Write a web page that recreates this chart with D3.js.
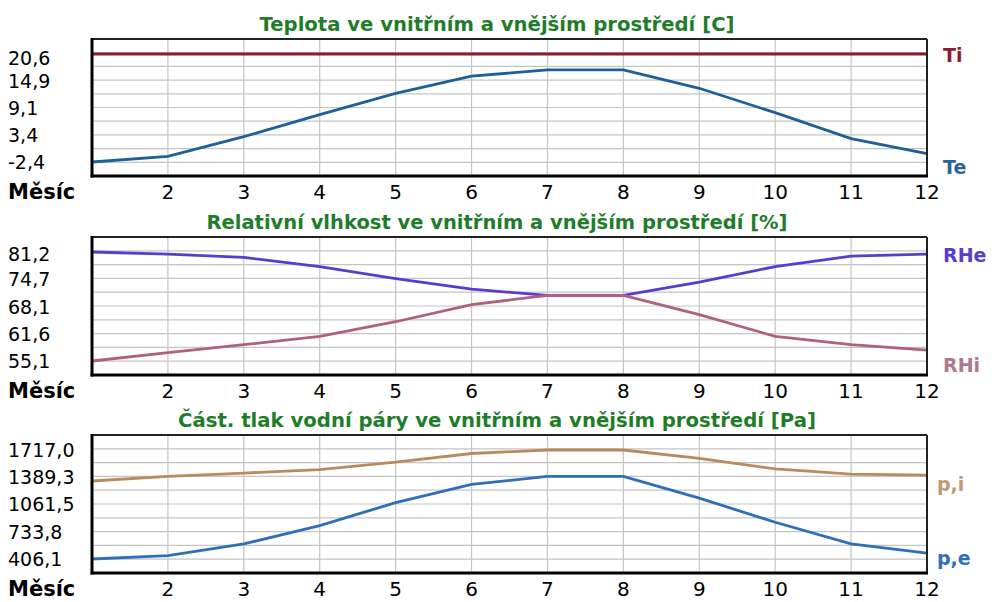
<!DOCTYPE html>
<html>
<head>
<meta charset="utf-8">
<script src="https://cdn.jsdelivr.net/npm/d3@7"></script>
<style>
  html, body { margin: 0; padding: 0; background: #ffffff; }
  svg { display: block; }
</style>
</head>
<body>
<svg id="chart" width="994" height="602"></svg>
<script>
// ---- data ----
const months = [1, 2, 3, 4, 5, 6, 7, 8, 9, 10, 11, 12];
const monthLabels = ["", "2", "3", "4", "5", "6", "7", "8", "9", "10", "11", "12"];

const tempInside = [20.6, 20.6, 20.6, 20.6, 20.6, 20.6, 20.6, 20.6, 20.6, 20.6, 20.6, 20.6];
const tempOutside = [-2.4, -1.2, 3.0, 7.7, 12.2, 15.9, 17.2, 17.2, 13.3, 8.1, 2.6, -0.6];
const tempTicks = [20.6, 14.9, 9.1, 3.4, -2.4];

const rhOutside = [81.2, 80.7, 79.9, 77.7, 74.8, 72.3, 70.8, 70.8, 74.0, 77.7, 80.2, 80.7];
const rhInside = [55.1, 57.1, 59.0, 61.0, 64.5, 68.6, 70.8, 70.8, 66.2, 61.0, 59.0, 57.7];
const rhTicks = [81.2, 74.7, 68.1, 61.6, 55.1];

const pInside = [1344, 1399, 1440, 1481, 1572, 1675, 1717, 1717, 1615, 1490, 1428, 1415];
const pOutside = [406.1, 447, 587, 807, 1084, 1303, 1399, 1399, 1138, 848, 587, 476];
const pTicks = [1717.0, 1389.3, 1061.5, 733.8, 406.1];

const titles = [
  "Teplota ve vnitřním a vnějším prostředí [C]",
  "Relativní vlhkost ve vnitřním a vnějším prostředí [%]",
  "Část. tlak vodní páry ve vnitřním a vnějším prostředí [Pa]"
];
const seriesNames = [["Ti", "Te"], ["RHe", "RHi"], ["p,i", "p,e"]];

// ---- layout ----
const svg = d3.select("#chart");
const left = 92, right = 927;
const panels = [
  { top: 39, bottom: 176, title: titles[0], titleW: 475, ticks: tempTicks, tickShiftTop: 4,
    series: [ { vals: tempInside, color: "#8c1c30", name: seriesNames[0][0], lc: "#8c1c30", lx: 943, lyFn: (y) => y(20.6) + 1 },
              { vals: tempOutside, color: "#1f5f98", name: seriesNames[0][1], lc: "#2a6494", lx: 943, lyFn: (y, p) => p.bottom - 9 } ] },
  { top: 237, bottom: 375, title: titles[1], titleW: 581, ticks: rhTicks, tickShiftTop: 2,
    series: [ { vals: rhOutside, color: "#5a3ccc", name: seriesNames[1][0], lc: "#5a3ccc", lx: 943, lyFn: (y) => y(81.2) + 3 },
              { vals: rhInside, color: "#b0607e", name: seriesNames[1][1], lc: "#b07890", lx: 943, lyFn: (y, p) => p.bottom - 10 } ] },
  { top: 435, bottom: 573, title: titles[2], titleW: 638, ticks: pTicks, tickShiftTop: 0,
    series: [ { vals: pInside, color: "#b88a60", name: seriesNames[2][0], lc: "#c09a74", lx: 937, lyFn: (y) => y(1415) + 9 },
              { vals: pOutside, color: "#2f6fb8", name: seriesNames[2][1], lc: "#2f6fb8", lx: 937, lyFn: (y) => y(476) + 5 } ] }
];

const x = d3.scaleLinear().domain([1, 12]).range([left, right]);
const fmt = (v) => d3.format(".1f")(v).replace("\u2212", "-").replace(".", ",");

panels.forEach((p) => {
  const all = p.series.flatMap(s => s.vals);
  const y = d3.scaleLinear()
    .domain([d3.min(all), d3.max(all)])
    .range([p.bottom - 14, p.top + 15]);

  const g = svg.append("g");

  // title
  g.append("text")
    .attr("x", 497).attr("y", p.top - 8)
    .attr("text-anchor", "middle")
    .attr("font-family", "DejaVu Sans, Verdana, sans-serif")
    .attr("font-weight", "bold")
    .attr("font-size", 20)
    .attr("fill", "#1f7d2a")
    .attr("textLength", p.titleW)
    .attr("lengthAdjust", "spacingAndGlyphs")
    .text(p.title);

  // horizontal grid: 10 equal divisions
  const hStep = (p.bottom - p.top) / 10;
  g.append("g").selectAll("line").data(d3.range(1, 10)).join("line")
    .attr("x1", left).attr("x2", right)
    .attr("y1", d => p.top + d * hStep).attr("y2", d => p.top + d * hStep)
    .attr("stroke", "#c4c4c4").attr("stroke-width", 1.2);

  // vertical grid at months 2..11
  g.append("g").selectAll("line").data(months.slice(1, 11)).join("line")
    .attr("x1", d => x(d)).attr("x2", d => x(d))
    .attr("y1", p.top).attr("y2", p.bottom)
    .attr("stroke", "#c4c4c4").attr("stroke-width", 1.2);

  // series lines
  const line = d3.line().x((d, i) => x(months[i])).y(d => y(d));
  p.series.forEach(s => {
    g.append("path")
      .datum(s.vals)
      .attr("d", line)
      .attr("fill", "none")
      .attr("stroke", s.color)
      .attr("stroke-width", 2.8);
  });

  // frame: thin top/right, thick left/bottom
  g.append("line").attr("x1", left).attr("x2", right).attr("y1", p.top).attr("y2", p.top)
    .attr("stroke", "#222").attr("stroke-width", 2);
  g.append("line").attr("x1", right).attr("x2", right).attr("y1", p.top).attr("y2", p.bottom)
    .attr("stroke", "#222").attr("stroke-width", 2);
  g.append("line").attr("x1", left).attr("x2", left).attr("y1", p.top - 1).attr("y2", p.bottom + 1.5)
    .attr("stroke", "#000").attr("stroke-width", 3);
  g.append("line").attr("x1", left - 1.5).attr("x2", right + 1).attr("y1", p.bottom).attr("y2", p.bottom)
    .attr("stroke", "#000").attr("stroke-width", 3);

  // y tick labels (left aligned)
  g.append("g").selectAll("text").data(p.ticks).join("text")
    .attr("x", 8)
    .attr("y", (d, i) => y(d) + (i === 0 ? p.tickShiftTop : 0))
    .attr("dy", "0.36em")
    .attr("font-family", "DejaVu Sans, sans-serif")
    .attr("font-size", 19)
    .attr("fill", "#000")
    .text(d => fmt(d));

  // x tick labels
  g.append("g").selectAll("text").data(months).join("text")
    .attr("x", d => x(d))
    .attr("y", p.bottom + 23)
    .attr("text-anchor", "middle")
    .attr("font-family", "DejaVu Sans, sans-serif")
    .attr("font-size", 20)
    .attr("fill", "#000")
    .text((d, i) => monthLabels[i]);

  // "Měsíc"
  g.append("text")
    .attr("x", 8).attr("y", p.bottom + 23)
    .attr("font-family", "DejaVu Sans, sans-serif")
    .attr("font-weight", "bold")
    .attr("font-size", 21)
    .attr("fill", "#000")
    .text("Měsíc");

  // series name labels on the right
  p.series.forEach(s => {
    g.append("text")
      .attr("x", s.lx)
      .attr("y", s.lyFn(y, p))
      .attr("dy", "0.36em")
      .attr("font-family", "DejaVu Sans, sans-serif")
      .attr("font-weight", "bold")
      .attr("font-size", 19)
      .attr("fill", s.lc)
      .text(s.name);
  });
});
</script>
</body>
</html>
